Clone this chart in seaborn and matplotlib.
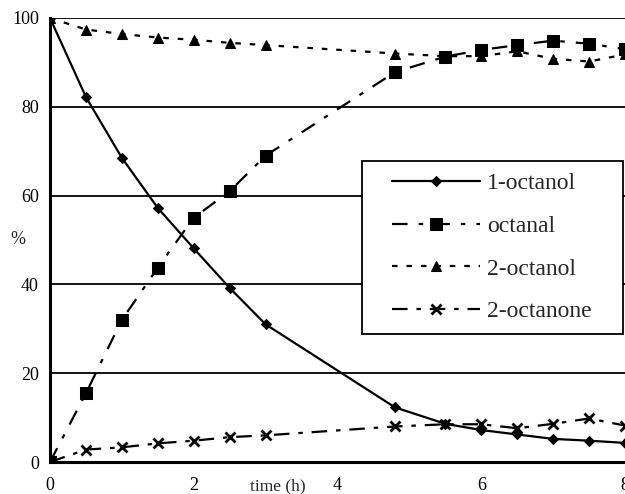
import matplotlib
matplotlib.use("Agg")
import matplotlib.pyplot as plt
from matplotlib.lines import Line2D
from matplotlib.legend_handler import HandlerLine2D
import seaborn as sns
import pandas as pd

time_h = [0, 0.5, 1, 1.5, 2, 2.5, 3, 4.8, 5.5, 6, 6.5, 7, 7.5, 8]
octanol_1 = [100, 82.2, 68.5, 57.2, 48.1, 39.2, 31.0, 12.3, 8.6, 7.2, 6.2, 5.2, 4.8, 4.3]
octanal = [0, 15.5, 32.0, 43.8, 55.0, 61.0, 69.0, 87.8, 91.3, 92.8, 93.9, 94.9, 94.2, 93.0]
octanol_2 = [100, 97.4, 96.4, 95.6, 95.1, 94.4, 93.9, 92.0, 91.4, 91.4, 92.5, 90.8, 90.2, 91.8]
octanone_2 = [0, 2.8, 3.3, 4.2, 4.8, 5.6, 6.0, 8.0, 8.5, 8.5, 7.6, 8.6, 9.8, 8.2]
series_names = ["1-octanol", "octanal", "2-octanol", "2-octanone"]
y_ticks = [0, 20, 40, 60, 80, 100]
x_ticks = [0, 2, 4, 6, 8]

sns.set_theme(style="white")
plt.rcParams["font.family"] = ["Liberation Serif", "DejaVu Serif"]

df = pd.DataFrame({"time": time_h * 4,
                   "value": octanol_1 + octanal + octanol_2 + octanone_2,
                   "series": sum([[n] * len(time_h) for n in series_names], [])})

fig = plt.figure(figsize=(6.25, 4.94), dpi=100)
ax = fig.add_axes([50 / 625, 32 / 494, 575 / 625, 444 / 494])

styles = {
    "1-octanol": dict(marker="D", markersize=5.5, dashes=(None, None)),
    "octanal": dict(marker="s", markersize=9, dashes=(7, 5, 2, 5)),
    "2-octanol": dict(marker="^", markersize=7.5, dashes=(2.5, 4)),
    "2-octanone": dict(marker="x", markersize=7, markeredgewidth=2, dashes=(7, 4, 2, 4)),
}

for name in series_names:
    st = dict(styles[name])
    d = st.pop("dashes")
    sub = df[df["series"] == name]
    sns.lineplot(data=sub, x="time", y="value", ax=ax, color="black",
                 linewidth=1.6, label=name, markeredgecolor="black",
                 markerfacecolor="black", **st)
    if d != (None, None):
        ax.lines[-1].set_dashes(d)

for y in y_ticks[1:]:
    ax.axhline(y, color="black", linewidth=1.3, zorder=0)

ax.set_xlim(0, 8)
ax.set_ylim(0, 100)
ax.set_xticks(x_ticks)
ax.set_yticks(y_ticks)
ax.set_xlabel("")
ax.set_ylabel("")
ax.tick_params(axis="both", length=0, labelsize=13, colors="black")
ax.tick_params(axis="x", pad=11)
ax.tick_params(axis="y", pad=8)
for s in ["top", "right"]:
    ax.spines[s].set_visible(False)
for s in ["left", "bottom"]:
    ax.spines[s].set_color("black")
    ax.spines[s].set_linewidth(2.2)

fig.text(277.5 / 625, 1 - 486 / 494, "time (h)", fontsize=12.5, ha="center", va="center")
fig.text(18 / 625, 1 - 240 / 494, "%", fontsize=13, ha="center", va="center")

leg = ax.legend(loc="center", bbox_to_anchor=(0.543, 0.29, 0.4535, 0.386),
                mode="expand", fontsize=17, handlelength=4.5, handletextpad=0.3,
                labelspacing=0.9, borderpad=0.5, frameon=True, fancybox=False,
                borderaxespad=0, handler_map={Line2D: HandlerLine2D(xpad=0.76)})
leg.get_frame().set_edgecolor("black")
leg.get_frame().set_linewidth(1.3)
leg.get_frame().set_facecolor("white")
leg.get_frame().set_alpha(1)

fig.savefig("out.png", dpi=100)
